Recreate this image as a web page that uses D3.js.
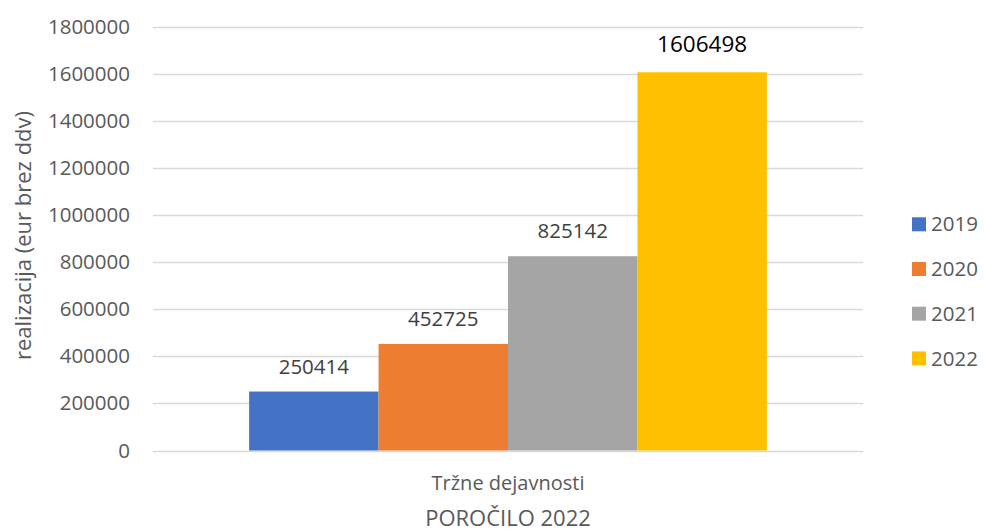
<!DOCTYPE html>
<html>
<head>
<meta charset="utf-8">
<script src="https://cdn.jsdelivr.net/npm/d3@7"></script>
<style>
  html, body { margin: 0; padding: 0; background: #fff; }
  svg { display: block; font-family: "Open Sans", "Noto Sans", sans-serif; }
</style>
</head>
<body>
<svg id="chart" width="984" height="532"></svg>
<script>
// Revenue from market activities by year
const category = "Tržne dejavnosti";
const years = ["2019", "2020", "2021", "2022"];
const values = [250414, 452725, 825142, 1606498];
const colors = ["#4472C4", "#ED7D31", "#A5A5A5", "#FFC000"];
const yTicks = [0, 200000, 400000, 600000, 800000, 1000000, 1200000, 1400000, 1600000, 1800000];
const yTitle = "realizacija (eur brez ddv)";
const xTitle = "POROČILO 2022";

const svg = d3.select("#chart");
const plot = { left: 153, right: 863, top: 26.7, bottom: 450.5 };

const y = d3.scaleLinear().domain([0, 1800000]).range([plot.bottom, plot.top]);

// one category band, with the four year bars inside it
const xCat = d3.scaleBand().domain([category]).range([plot.left, plot.right]).paddingInner(0).paddingOuter(0.1857);
const xYear = d3.scaleBand().domain(years).range([0, xCat.bandwidth()]).padding(0);

// gridlines
svg.append("g")
  .selectAll("line")
  .data(yTicks)
  .join("line")
  .attr("x1", plot.left).attr("x2", plot.right)
  .attr("y1", d => Math.round(y(d)) + 0.5).attr("y2", d => Math.round(y(d)) + 0.5)
  .attr("stroke", "#D9D9D9").attr("stroke-width", 1.3);

// y axis labels
const yAxis = svg.append("g")
  .attr("transform", `translate(${plot.left},0)`)
  .call(d3.axisLeft(y).tickValues(yTicks).tickFormat(d3.format("d")).tickSize(0).tickPadding(23));
yAxis.select(".domain").remove();
yAxis.selectAll("text")
  .attr("fill", "#595959")
  .style("font-size", "20.5px")
  .style("font-family", "'Open Sans', sans-serif");

// bars
const g = svg.append("g").attr("transform", `translate(${xCat(category)},0)`);
g.selectAll("rect")
  .data(values)
  .join("rect")
  .attr("x", (d, i) => xYear(years[i]))
  .attr("width", xYear.bandwidth())
  .attr("y", d => y(d))
  .attr("height", d => y(0) - y(d))
  .attr("fill", (d, i) => colors[i]);

// value labels
g.selectAll("text")
  .data(values)
  .join("text")
  .attr("x", (d, i) => xYear(years[i]) + xYear.bandwidth() / 2)
  .attr("y", (d, i) => y(d) - (i === 3 ? 20 : 18))
  .attr("text-anchor", "middle")
  .attr("fill", (d, i) => i === 3 ? "#000000" : "#404040")
  .style("font-size", (d, i) => i === 3 ? "22.5px" : "20.5px")
  .text(d => d);

// category label
svg.append("text")
  .attr("x", xCat(category) + xCat.bandwidth() / 2)
  .attr("y", 490)
  .attr("text-anchor", "middle")
  .attr("fill", "#595959")
  .style("font-size", "20px")
  .text(category);

// x axis title
svg.append("text")
  .attr("x", xCat(category) + xCat.bandwidth() / 2)
  .attr("y", 526)
  .attr("text-anchor", "middle")
  .attr("fill", "#595959")
  .style("font-size", "22px")
  .text(xTitle);

// y axis title
svg.append("text")
  .attr("transform", "translate(31,235.5) rotate(-90)")
  .attr("text-anchor", "middle")
  .attr("fill", "#595959")
  .style("font-size", "22px")
  .text(yTitle);

// legend
const legend = svg.append("g").attr("transform", "translate(912,224.3)");
const item = legend.selectAll("g")
  .data(years)
  .join("g")
  .attr("transform", (d, i) => `translate(0,${i * 44.7})`);
item.append("rect")
  .attr("x", 0).attr("y", -7).attr("width", 14).attr("height", 14)
  .attr("fill", (d, i) => colors[i]);
item.append("text")
  .attr("x", 19).attr("y", 0).attr("dy", "0.35em")
  .attr("fill", "#595959")
  .style("font-size", "20.5px")
  .text(d => d);
</script>
</body>
</html>
